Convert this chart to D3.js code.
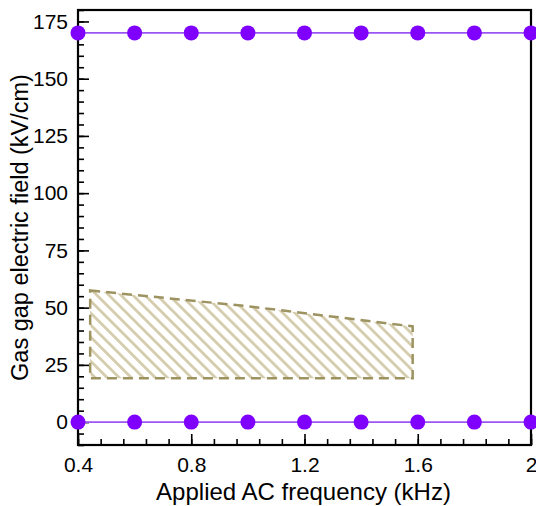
<!DOCTYPE html>
<html>
<head>
<meta charset="utf-8">
<script src="https://cdn.jsdelivr.net/npm/d3@7"></script>
<style>
  html, body { margin: 0; padding: 0; background: #fff; }
  svg { display: block; font-family: "Liberation Sans", Arial, sans-serif; }
</style>
</head>
<body>
<svg id="chart" width="536" height="506"></svg>
<script>
// Applied AC frequency (kHz) sample points
const frequency = [0.4, 0.6, 0.8, 1.0, 1.2, 1.4, 1.6, 1.8, 2.0];
// Gas gap electric field bounds (kV/cm)
const upperField = [170, 170, 170, 170, 170, 170, 170, 170, 170];
const lowerField = [0, 0, 0, 0, 0, 0, 0, 0, 0];

// Operating window (hatched region)
const regionFreq = [0.443, 1.0, 1.582];
const regionTop = [57.5, 50.6, 41.8];
const regionBottom = [19.2, 19.2, 19.2];

// Axis ticks
const xTicks = [0.4, 0.8, 1.2, 1.6, 2.0];
const xTickLabels = ["0.4", "0.8", "1.2", "1.6", "2"];
const yTicks = [0, 25, 50, 75, 100, 125, 150, 175];

const svg = d3.select("#chart");
const plotL = 78, plotR = 531, plotT = 10, plotB = 445;

const x = d3.scaleLinear().domain([0.4, 2.0]).range([plotL, plotR]);
const y = d3.scaleLinear().domain([-10, 180]).range([plotB, plotT]);

// hatch pattern for the operating window
const defs = svg.append("defs");
const pat = defs.append("pattern")
  .attr("id", "hatch")
  .attr("patternUnits", "userSpaceOnUse")
  .attr("width", 8.5).attr("height", 8.5)
  .attr("patternTransform", "rotate(-45)");
pat.append("line")
  .attr("x1", 4.25).attr("y1", -1).attr("x2", 4.25).attr("y2", 10)
  .attr("stroke", "#d5cdae").attr("stroke-width", 2.8);

// region polygon: top edge left→right, bottom edge right→left
const regionPts = regionFreq.map((f, i) => [x(f), y(regionTop[i])])
  .concat(regionFreq.map((f, i) => [x(f), y(regionBottom[i])]).reverse());
svg.append("polygon")
  .attr("points", regionPts.map(p => p.join(",")).join(" "))
  .attr("fill", "url(#hatch)")
  .attr("stroke", "#9d9361")
  .attr("stroke-width", 2.5)
  .attr("stroke-dasharray", "10,6");

// axes: ticks pointing inward, labels outside
const xMinor = d3.range(0.4, 2.0001, 0.08).map(v => +v.toFixed(2));
const yMinor = d3.range(-10, 180.001, 5);

const xAxis = svg.append("g").attr("transform", `translate(0,${plotB})`);
xAxis.call(d3.axisBottom(x).tickValues(xMinor).tickSize(-6).tickFormat(""))
  .call(g => g.select(".domain").remove());
xAxis.append("g").call(d3.axisBottom(x).tickValues(xTicks).tickSize(-11)
    .tickFormat((d, i) => xTickLabels[i]).tickPadding(12))
  .call(g => g.select(".domain").remove());
xAxis.selectAll("line").attr("stroke", "#000").attr("stroke-width", 1.6);
xAxis.selectAll("text").attr("font-size", 21).attr("fill", "#000")
  .attr("font-family", "Liberation Sans, Arial, sans-serif");

const yAxis = svg.append("g").attr("transform", `translate(${plotL},0)`);
yAxis.call(d3.axisLeft(y).tickValues(yMinor).tickSize(-6).tickFormat(""))
  .call(g => g.select(".domain").remove());
yAxis.append("g").call(d3.axisLeft(y).tickValues(yTicks).tickSize(-11).tickPadding(10))
  .call(g => g.select(".domain").remove());
yAxis.selectAll("line").attr("stroke", "#000").attr("stroke-width", 1.6);
yAxis.selectAll("text").attr("font-size", 21).attr("fill", "#000")
  .attr("font-family", "Liberation Sans, Arial, sans-serif");

// frame
svg.append("rect")
  .attr("x", plotL).attr("y", plotT)
  .attr("width", plotR - plotL).attr("height", plotB - plotT)
  .attr("fill", "none").attr("stroke", "#000").attr("stroke-width", 2.2);

// series lines and markers
const line = d3.line().x(d => x(d[0])).y(d => y(d[1]));
[upperField, lowerField].forEach(series => {
  const pts = frequency.map((f, i) => [f, series[i]]);
  svg.append("path")
    .attr("d", line(pts))
    .attr("fill", "none")
    .attr("stroke", "#9b55f4")
    .attr("stroke-width", 1.6);
  svg.append("g").selectAll("circle").data(pts).join("circle")
    .attr("cx", d => x(d[0])).attr("cy", d => y(d[1]))
    .attr("r", 7.5)
    .attr("fill", "#7f00ff");
});

// axis titles
svg.append("text")
  .attr("x", (plotL + plotR) / 2 - 1).attr("y", 500)
  .attr("text-anchor", "middle").attr("font-size", 24).attr("fill", "#000")
  .text("Applied AC frequency (kHz)");
svg.append("text")
  .attr("transform", `translate(28,${(plotT + plotB) / 2}) rotate(-90)`)
  .attr("text-anchor", "middle").attr("font-size", 23.5).attr("fill", "#000")
  .text("Gas gap electric field (kV/cm)");
</script>
</body>
</html>
